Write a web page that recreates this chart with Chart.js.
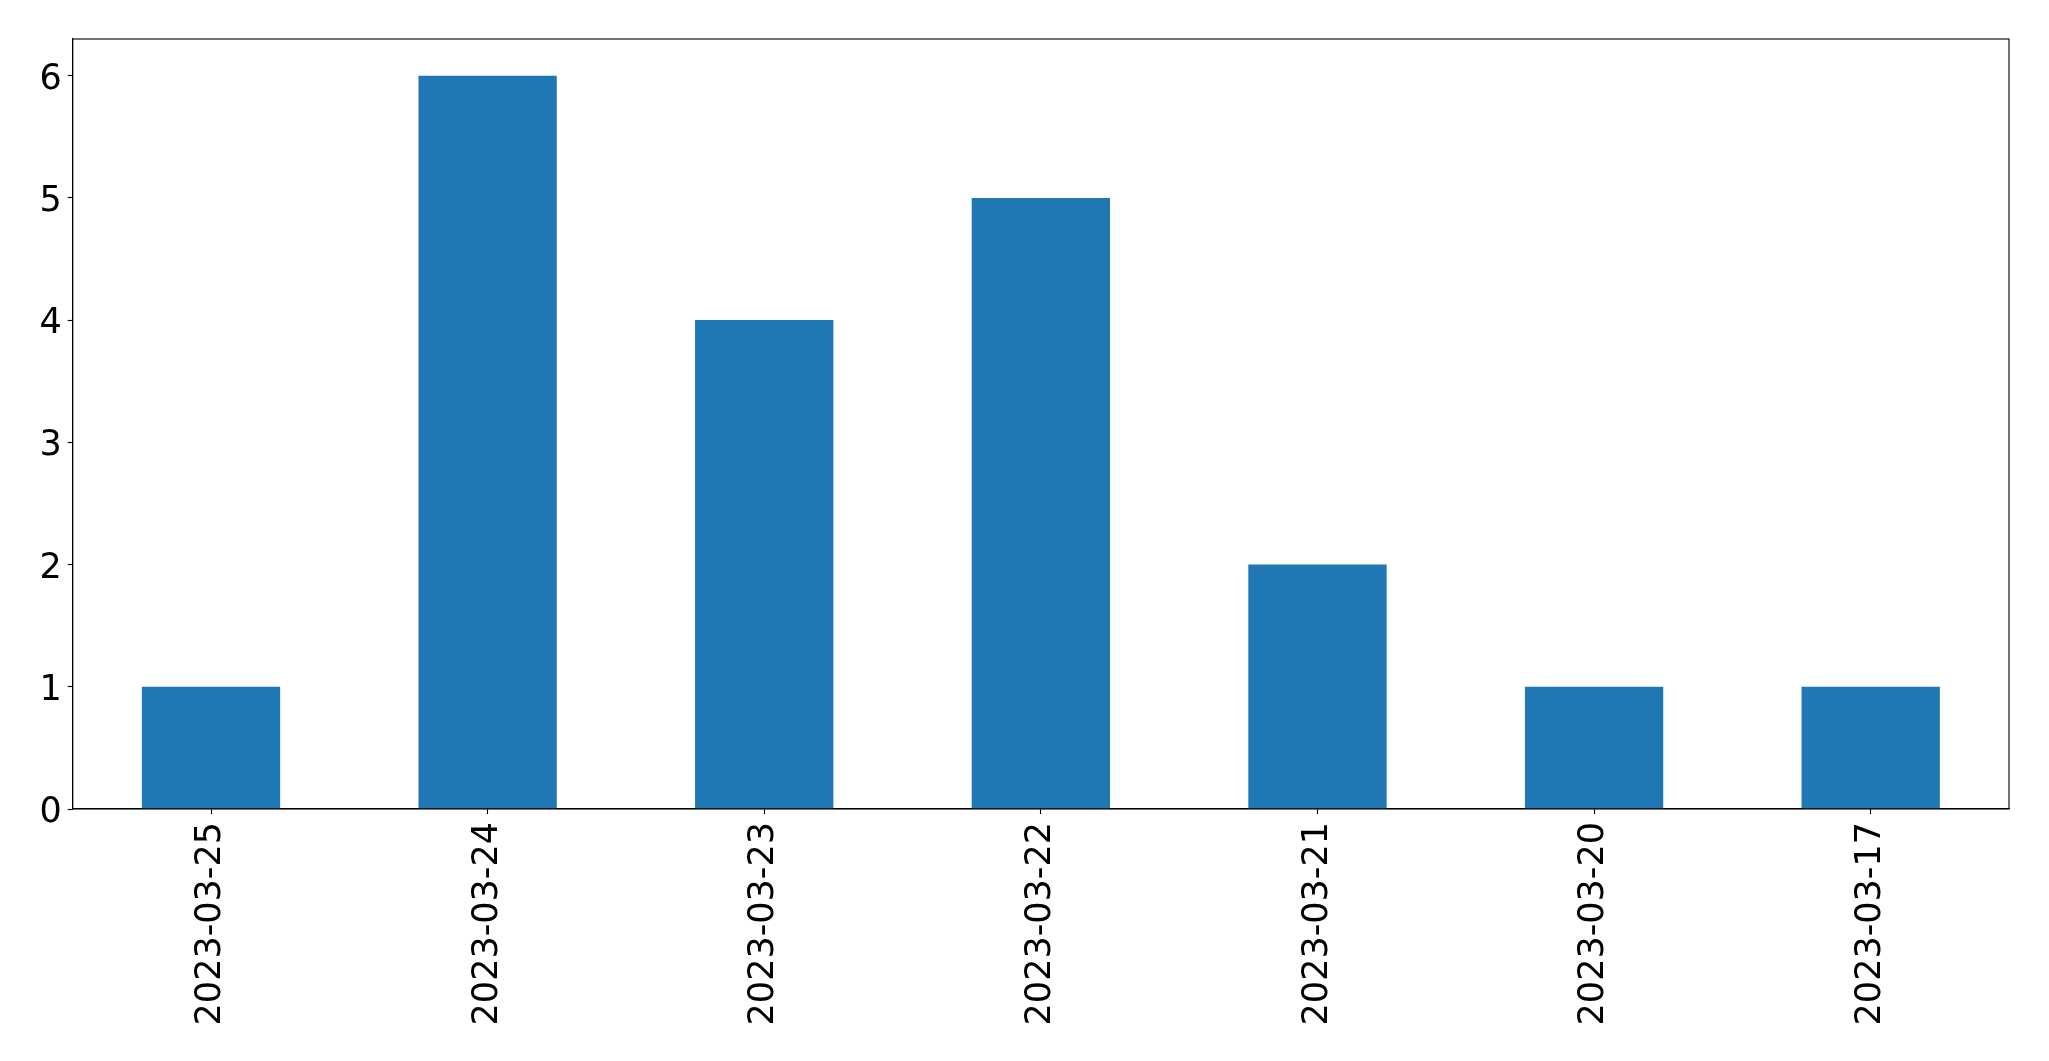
<!DOCTYPE html>
<html>
<head>
<meta charset="utf-8">
<script src="https://cdn.jsdelivr.net/npm/chart.js@4/dist/chart.umd.min.js"></script>
<style>
  html, body { margin: 0; padding: 0; background: #fff; }
  #wrap { width: 2049px; height: 1061px; }
</style>
</head>
<body>
<div id="wrap"><canvas id="chart"></canvas></div>
<script>
// Daten
var dates = ['2023-03-25', '2023-03-24', '2023-03-23', '2023-03-22', '2023-03-21', '2023-03-20', '2023-03-17'];
var counts = [1, 6, 4, 5, 2, 1, 1];
var yTicks = [0, 1, 2, 3, 4, 5, 6];

// Rahmen um den Plotbereich (wie matplotlib spines)
var boxPlugin = {
    id: 'box',
    afterDatasetsDraw: function(chart) {
        var a = chart.chartArea;
        var ctx = chart.ctx;
        ctx.save();
        ctx.strokeStyle = '#000';
        ctx.lineWidth = 1.1;
        ctx.strokeRect(a.left, a.top, a.right - a.left, a.bottom - a.top);
        ctx.restore();
    }
};

var ctx = document.getElementById('chart').getContext('2d');
var chart = new Chart(ctx, {
    type: 'bar',
    data: {
        labels: dates,
        datasets: [{
            data: counts,
            backgroundColor: '#1f77b4',
            borderWidth: 0,
            barPercentage: 0.5,
            categoryPercentage: 1.0
        }]
    },
    options: {
        responsive: true,
        maintainAspectRatio: false,
        animation: false,
        layout: { padding: { top: 39, right: 40, left: 0, bottom: 0 } },
        plugins: {
            legend: { display: false },
            tooltip: { enabled: false }
        },
        scales: {
            x: {
                offset: true,
                grid: { display: true, offset: false, drawOnChartArea: false, drawTicks: true, tickLength: 5, color: '#000', tickWidth: 1.1 },
                border: { display: true, color: '#000', width: 1.1 },
                ticks: {
                    minRotation: 90,
                    maxRotation: 90,
                    autoSkip: false,
                    padding: 8,
                    color: '#000',
                    font: { family: 'DejaVu Sans', size: 35 }
                },
                afterFit: function(axis) { axis.height = 252; }
            },
            y: {
                min: 0,
                max: 6.3,
                grid: { display: true, drawOnChartArea: false, drawTicks: true, tickLength: 5, color: '#000', tickWidth: 1.1 },
                border: { display: true, color: '#000', width: 1.1 },
                ticks: {
                    padding: 6,
                    labelOffset: 4,
                    color: '#000',
                    font: { family: 'DejaVu Sans', size: 35 }
                },
                afterBuildTicks: function(axis) {
                    axis.ticks = yTicks.map(function(v) { return { value: v }; });
                },
                afterFit: function(axis) { axis.width = 72.7; }
            }
        }
    },
    plugins: [boxPlugin]
});
</script>
</body>
</html>
